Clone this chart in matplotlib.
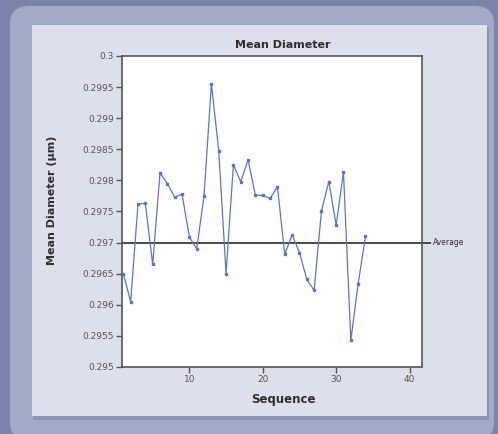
import matplotlib.pyplot as plt
from matplotlib.patches import FancyBboxPatch, Rectangle

# data
sequence = list(range(1, 35))
mean_diameter = [
    0.29650, 0.29605, 0.29762, 0.29763, 0.29665, 0.29812, 0.29795, 0.29773,
    0.29778, 0.29709, 0.29690, 0.29775, 0.29955, 0.29848, 0.29650, 0.29825,
    0.29798, 0.29833, 0.29776, 0.29776, 0.29771, 0.29790, 0.29681, 0.29713,
    0.29684, 0.29641, 0.29623, 0.29751, 0.29798, 0.29728, 0.29813, 0.29543,
    0.29634, 0.29710,
]
average = 0.297
y_ticks = [0.295, 0.2955, 0.296, 0.2965, 0.297, 0.2975, 0.298, 0.2985, 0.299, 0.2995, 0.3]
y_tick_labels = ["0.295", "0.2955", "0.296", "0.2965", "0.297", "0.2975",
                 "0.298", "0.2985", "0.299", "0.2995", "0.3"]
x_ticks = [10, 20, 30, 40]

W, H = 498, 434
fig = plt.figure(figsize=(W / 100, H / 100), dpi=100)
fig.patch.set_facecolor("#7c84a9")


# background panels (pixel coords -> figure fraction)
def px_box(x0, y0, x1, y1):
    return x0 / W, 1 - y1 / H, (x1 - x0) / W, (y1 - y0) / H


bx, by, bw, bh = px_box(10, 6, 494, 440)
fig.patches.append(FancyBboxPatch((bx, by), bw, bh, boxstyle="round,pad=0,rounding_size=0.04",
                                  transform=fig.transFigure, facecolor="#a3aac7",
                                  edgecolor="none", zorder=-10))
sx, sy, sw, sh = px_box(33, 27, 489, 420)
fig.patches.append(Rectangle((sx, sy), sw, sh, transform=fig.transFigure,
                             facecolor="#8e95b4", edgecolor="none", zorder=-9))
ix, iy, iw, ih = px_box(32, 25, 487, 416)
fig.patches.append(Rectangle((ix, iy), iw, ih, transform=fig.transFigure,
                             facecolor="#dde0ea", edgecolor="none", zorder=-8))

ax = fig.add_axes([122 / W, 1 - 367 / H, 300 / W, 311 / H])
ax.set_facecolor("white")

ax.plot(sequence, mean_diameter, color="#5b74cc", linewidth=0.9,
        marker="s", markersize=2, zorder=3)
ax.axhline(average, xmin=0, xmax=1.027, color="#3c3c3c", linewidth=1.3,
           clip_on=False, zorder=2)
ax.text(1.037, average, "Average", transform=ax.get_yaxis_transform(),
        fontsize=5.5, color="#333333", va="center", ha="left")

ax.set_xlim(0.82, 41.7)
ax.set_ylim(0.295, 0.3)
ax.set_xticks(x_ticks)
ax.set_yticks(y_ticks)
ax.set_yticklabels(y_tick_labels)
ax.tick_params(direction="out", length=4, width=1, color="#555555",
               labelsize=6.5, labelcolor="#555555", pad=2)

for spine in ax.spines.values():
    spine.set_color("#555555")
    spine.set_linewidth(1.2)

fig.text(283 / W, 1 - 45 / H, "Mean Diameter", fontsize=8, fontweight="bold",
         color="#2e2e2e", ha="center", va="center")
fig.text(283 / W, 1 - 399 / H, "Sequence", fontsize=8.5, fontweight="bold",
         color="#2e2e2e", ha="center", va="center")
fig.text(52 / W, 1 - 200 / H, "Mean Diameter (\u03bcm)", fontsize=8, fontweight="bold",
         color="#2e2e2e", ha="center", va="center", rotation=90)

fig.savefig("out.png", dpi=100, facecolor=fig.get_facecolor())
